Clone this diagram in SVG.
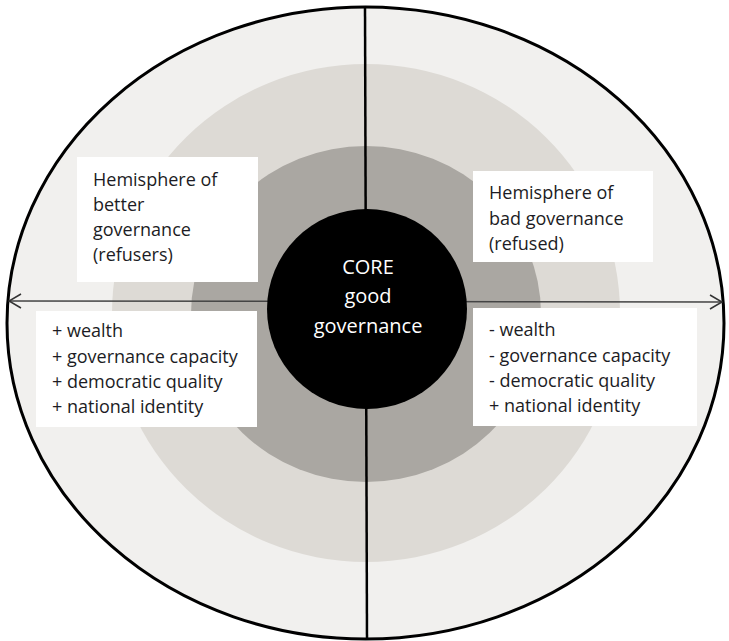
<svg xmlns="http://www.w3.org/2000/svg" width="729" height="641" viewBox="0 0 729 641">
<style>
.lbl{font-family:"Open Sans","Liberation Sans",sans-serif;font-size:18px;fill:#1c1c24}
.core{font-family:"Open Sans","Liberation Sans",sans-serif;font-size:20px;font-weight:500;fill:#ffffff;text-anchor:middle}
.box{fill:#ffffff}
</style>
<defs>
<marker id="arr" viewBox="0 0 14 16" refX="13" refY="8" markerWidth="14" markerHeight="16" markerUnits="userSpaceOnUse" orient="auto-start-reverse">
<path d="M1,1 L13,8 L1,15" fill="none" stroke="#333" stroke-width="1.5"/>
</marker>
</defs>
<rect width="729" height="641" fill="#ffffff"/>
<g id="rings">
<ellipse id="outer" cx="365.5" cy="323" rx="358.5" ry="316" fill="#f1f0ee" stroke="#000" stroke-width="3"/>
<ellipse id="middle" cx="366" cy="313" rx="254" ry="249" fill="#dddad5"/>
<ellipse id="inner" cx="366" cy="314" rx="175" ry="168" fill="#aaa7a2"/>
</g>
<g id="connectors">
<line x1="365" y1="7" x2="367" y2="640" stroke="#000" stroke-width="2.5"/>
<line x1="9" y1="301" x2="722" y2="302" stroke="#444" stroke-width="1.5" marker-start="url(#arr)" marker-end="url(#arr)"/>
</g>
<g id="core-node">
<circle cx="367" cy="309" r="100" fill="#000"/>
<text class="core" x="368" y="274">CORE</text>
<text class="core" x="368" y="303">good</text>
<text class="core" x="368" y="333">governance</text>
</g>
<g id="better-hemisphere">
<rect class="box" x="77" y="157" width="181" height="125"/>
<text class="lbl" x="93" y="186">Hemisphere of</text>
<text class="lbl" x="93" y="211">better</text>
<text class="lbl" x="93" y="236">governance</text>
<text class="lbl" x="93" y="261">(refusers)</text>
</g>
<g id="bad-hemisphere">
<rect class="box" x="473" y="171" width="180" height="91"/>
<text class="lbl" x="489" y="199">Hemisphere of</text>
<text class="lbl" x="489" y="225">bad governance</text>
<text class="lbl" x="489" y="250">(refused)</text>
</g>
<g id="better-attributes">
<rect class="box" x="36" y="311" width="221" height="116"/>
<text class="lbl" x="52" y="337">+ wealth</text>
<text class="lbl" x="52" y="363">+ governance capacity</text>
<text class="lbl" x="52" y="388">+ democratic quality</text>
<text class="lbl" x="52" y="413">+ national identity</text>
</g>
<g id="bad-attributes">
<rect class="box" x="473" y="308" width="224" height="118"/>
<text class="lbl" x="489" y="336">- wealth</text>
<text class="lbl" x="489" y="362">- governance capacity</text>
<text class="lbl" x="489" y="387">- democratic quality</text>
<text class="lbl" x="489" y="412">+ national identity</text>
</g>
</svg>
